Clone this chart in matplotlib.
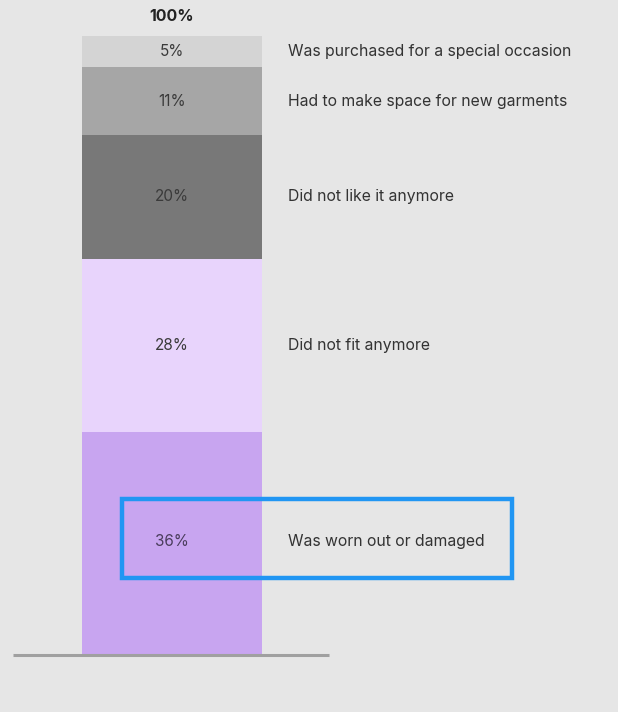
import matplotlib
matplotlib.use("Agg")
import matplotlib.pyplot as plt
from matplotlib.patches import Rectangle

plt.rcParams['font.family'] = ['Inter', 'DejaVu Sans']

# Data (bottom to top)
values = [36, 28, 20, 11, 5]
labels = ["Was worn out or damaged", "Did not fit anymore", "Did not like it anymore",
          "Had to make space for new garments", "Was purchased for a special occasion"]
colors = ["#c8a5f0", "#e8d4fc", "#787878", "#a6a6a6", "#d4d4d4"]
pct_colors = ["#4a3d5c", "#3a3a3a", "#3a3a3a", "#3a3a3a", "#3a3a3a"]
total_label = "100%"
highlight = "Was worn out or damaged"

bg = "#e6e6e6"
fig = plt.figure(figsize=(6.18, 7.12), dpi=100, facecolor=bg)
ax = fig.add_axes([0, 0, 1, 1], facecolor=bg)
ax.set_xlim(-0.9556, 2.478)
ax.set_ylim(-9.21, 105.82)
ax.axis('off')

bottom = 0
for v, lab, c, tc in zip(values, labels, colors, pct_colors):
    ax.bar(0, v, width=1.0, bottom=bottom, color=c, edgecolor='none')
    mid = bottom + v / 2
    ty = mid + 0.4 if lab == highlight else mid
    ax.text(0, ty, f"{v}%", ha='center', va='center', fontsize=11, color=tc)
    ax.text(0.644, ty, lab, ha='left', va='center', fontsize=11.35, color="#333333")
    if lab == highlight:
        ax.add_patch(Rectangle((-0.278, mid + 0.8 - 6.4), 2.167, 12.8, fill=False,
                               edgecolor="#2196f3", linewidth=3.2, zorder=5))
    bottom += v

ax.text(0, bottom + 3.1, total_label, ha='center', va='center', fontsize=11.5,
        fontweight='bold', color="#222222")
ax.plot([-0.883, 0.872], [0, 0], color="#a0a0a0", linewidth=2.2, solid_capstyle='butt')

fig.savefig("out.png", dpi=100, facecolor=bg)
